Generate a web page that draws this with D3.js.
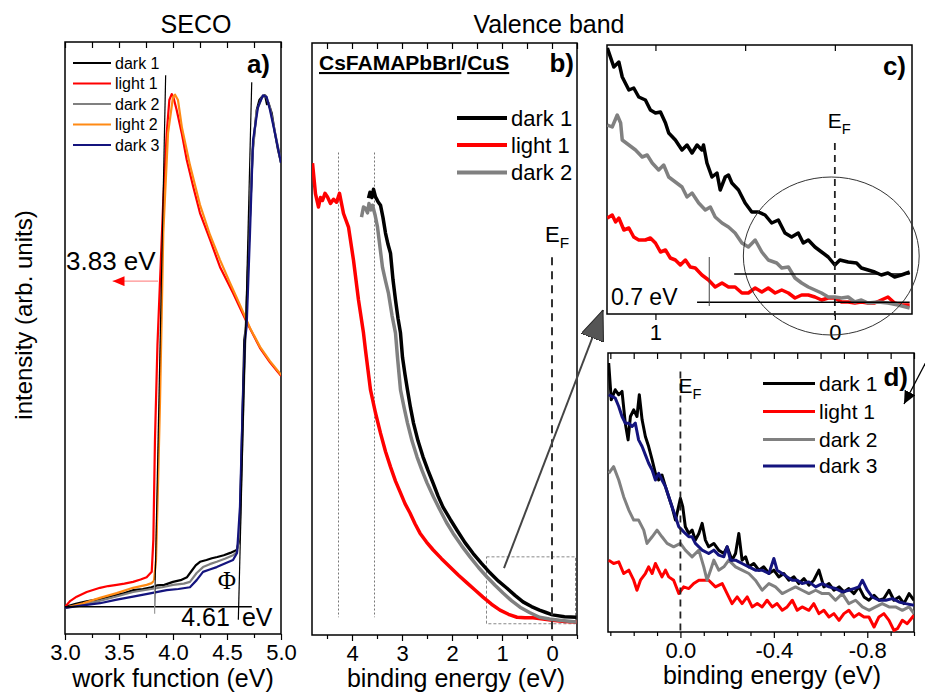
<!DOCTYPE html>
<html lang="en">
<head>
<meta charset="UTF-8">
<title>SECO and valence band</title>
<script src="https://d3js.org/d3.v7.min.js"></script>
<style>
    body { margin: 0; background: #fff; }
    svg { font-family: "Liberation Sans", Arial, sans-serif; }
    .tick text { font-size: 22px; fill: #000; font-family: "Liberation Sans", Arial, sans-serif; }
    .tick line { stroke: #000; stroke-width: 1.2; }
</style>
</head>
<body>
<svg id="chart" width="925" height="694"></svg>
<script>
// ---- panel a: SECO, work function (eV) vs intensity ----
const secoDark1 = [[3.00,4.6],[3.10,5.1],[3.20,5.5],[3.32,5.9],[3.45,6.5],[3.55,6.9],[3.63,7.4],[3.72,7.6],[3.80,7.9],[3.85,8.2],[3.92,8.3],[4.00,8.8],[4.07,9.1],[4.13,9.6],[4.17,10.6],[4.21,11.6],[4.25,12.2],[4.31,12.5],[4.36,12.8],[4.41,13.0],[4.47,13.3],[4.53,13.7],[4.59,14.2],[4.614,15.9],[4.627,24.3],[4.645,38.3],[4.66,49.7],[4.676,52.0],[4.706,67.7],[4.738,81.8],[4.775,88.5],[4.80,90.2],[4.821,90.7],[4.852,91.0],[4.87,89.5],[4.882,89.8],[4.914,88.0],[4.944,84.6],[4.97,82.0],[5.0,79.6]];
const secoLight1 = [[3.00,4.6],[3.05,5.6],[3.108,6.3],[3.201,7.1],[3.324,7.8],[3.40,8.1],[3.479,8.3],[3.55,8.5],[3.63,8.8],[3.70,9.2],[3.756,9.6],[3.803,10.5],[3.818,15.9],[3.833,32.8],[3.856,48.8],[3.91,73.3],[3.942,84.6],[3.966,90.2],[3.988,91.2],[4.003,90.7],[4.034,88.5],[4.081,84.6],[4.127,80.1],[4.188,75.5],[4.25,71.1],[4.343,66.6],[4.435,62.0],[4.556,57.6],[4.682,52.7],[4.806,48.3],[4.898,45.9],[5.0,43.6]];
const secoDark2 = [[3.00,4.4],[3.15,4.9],[3.30,5.5],[3.45,6.2],[3.63,7.1],[3.80,7.6],[3.90,7.9],[4.00,8.3],[4.10,8.5],[4.157,8.8],[4.219,10.3],[4.278,11.3],[4.34,11.8],[4.405,12.2],[4.48,12.7],[4.556,13.3],[4.593,13.9],[4.619,17.6],[4.634,27.7],[4.653,39.5],[4.671,50.8],[4.704,66.6],[4.736,80.9],[4.773,88.2],[4.824,90.7],[4.861,90.9],[4.898,88.9],[4.944,84.8],[5.0,79.7]];
const secoLight2 = [[3.00,4.4],[3.167,5.2],[3.324,6.1],[3.479,6.9],[3.63,7.8],[3.756,8.3],[3.803,8.6],[3.824,9.0],[3.843,12.5],[3.864,27.2],[3.88,39.5],[3.91,67.7],[3.954,84.6],[4.0,90.7],[4.019,91.1],[4.046,90.2],[4.083,85.5],[4.157,79.2],[4.25,72.5],[4.343,67.4],[4.435,63.2],[4.528,59.3],[4.62,55.6],[4.713,51.7],[4.806,48.5],[4.898,46.1],[5.0,43.8]];
const secoDark3 = [[3.00,4.4],[3.15,4.8],[3.324,5.2],[3.48,5.8],[3.63,6.3],[3.80,6.9],[3.942,7.4],[4.05,7.6],[4.157,7.9],[4.219,9.1],[4.278,10.5],[4.34,10.9],[4.405,11.3],[4.48,11.9],[4.556,12.5],[4.593,13.7],[4.62,21.5],[4.645,38.3],[4.667,49.7],[4.682,52.0],[4.713,67.7],[4.741,83.4],[4.787,89.0],[4.833,91.0],[4.867,90.7],[4.898,88.5],[4.944,84.6],[5.0,79.6]];
const secoNames = ["dark 1", "light 1", "dark 2", "light 2", "dark 3"];
const secoTicks = [3.0, 3.5, 4.0, 4.5, 5.0];
const wfLight = 3.83, wfDark = 4.61;

// ---- panel b: valence band, binding energy (eV) ----
const vbDark1 = [[3.67,73.8],[3.64,74.8],[3.60,73.9],[3.57,75.3],[3.53,74.0],[3.48,73.2],[3.43,72.6],[3.38,70.5],[3.33,67.9],[3.28,66.0],[3.23,64.5],[3.18,60.0],[3.13,56.6],[3.08,53.5],[3.03,51.0],[2.99,46.9],[2.94,44.0],[2.89,41.4],[2.83,38.4],[2.77,35.8],[2.68,32.8],[2.58,30.1],[2.48,27.8],[2.38,25.7],[2.28,23.5],[2.18,21.6],[2.04,19.6],[1.90,17.7],[1.74,15.6],[1.58,13.8],[1.41,12.1],[1.24,10.5],[1.07,9.1],[0.90,7.9],[0.74,6.7],[0.58,5.6],[0.41,4.8],[0.25,4.2],[0.12,3.8],[-0.01,3.4],[-0.25,3.1],[-0.49,3.0]];
const vbLight1 = [[4.79,79.7],[4.73,74.5],[4.67,72.3],[4.63,73.9],[4.59,73.4],[4.54,74.6],[4.49,74.0],[4.43,72.9],[4.37,73.6],[4.31,73.1],[4.25,74.6],[4.17,71.2],[4.07,68.9],[3.97,63.3],[3.87,56.6],[3.77,51.0],[3.73,48.1],[3.63,41.4],[3.53,37.5],[3.43,34.1],[3.33,31.0],[3.23,28.4],[3.13,26.0],[3.03,24.0],[2.94,22.2],[2.84,20.6],[2.74,18.8],[2.64,17.2],[2.51,15.7],[2.38,14.4],[2.21,12.9],[2.04,11.5],[1.87,10.1],[1.70,8.8],[1.54,7.6],[1.38,6.4],[1.21,5.2],[1.04,4.2],[0.87,3.5],[0.70,3.0],[0.54,2.9],[0.38,2.9],[0.18,2.7],[-0.01,2.5],[-0.25,2.3],[-0.49,2.2]];
const vbDark2 = [[3.81,70.6],[3.77,72.3],[3.73,72.1],[3.69,71.3],[3.66,72.9],[3.62,71.8],[3.59,72.6],[3.54,71.0],[3.49,68.9],[3.44,65.5],[3.39,62.1],[3.33,59.8],[3.27,57.7],[3.20,54.0],[3.13,51.0],[3.09,46.9],[3.03,41.4],[2.96,38.5],[2.89,35.8],[2.80,32.8],[2.70,30.1],[2.60,27.8],[2.50,25.7],[2.37,23.3],[2.24,21.1],[2.11,19.0],[1.98,17.2],[1.81,15.1],[1.64,13.2],[1.47,11.4],[1.30,9.8],[1.14,8.4],[0.98,7.1],[0.81,5.8],[0.64,4.7],[0.45,3.8],[0.25,3.0],[0.05,2.7],[-0.15,2.5],[-0.49,2.2]];
const vbNames = ["dark 1", "light 1", "dark 2"];
const vbTicks = [4, 3, 2, 1, 0];
const vbMarks = [4.27, 3.55];

// ---- panel c: zoom near the Fermi edge ----
const zoomDark1 = [[1.268,2.66],[1.232,2.47],[1.204,2.52],[1.185,2.37],[1.148,2.24],[1.121,2.26],[1.093,2.17],[1.056,2.14],[1.028,2.04],[1.0,2.01],[0.972,2.02],[0.944,1.91],[0.926,1.81],[0.889,1.74],[0.852,1.64],[0.824,1.69],[0.796,1.61],[0.768,1.69],[0.741,1.64],[0.732,1.69],[0.713,1.51],[0.685,1.37],[0.657,1.41],[0.639,1.24],[0.611,1.37],[0.593,1.39],[0.574,1.31],[0.537,1.24],[0.5,1.11],[0.463,1.02],[0.426,1.02],[0.389,0.99],[0.352,0.91],[0.315,0.94],[0.278,0.81],[0.241,0.77],[0.204,0.81],[0.176,0.71],[0.148,0.74],[0.111,0.67],[0.074,0.62],[0.037,0.57],[0.0,0.49],[-0.028,0.54],[-0.074,0.52],[-0.121,0.51],[-0.148,0.46],[-0.185,0.44],[-0.222,0.42],[-0.259,0.39],[-0.296,0.41],[-0.333,0.37],[-0.371,0.39],[-0.417,0.42]];
const zoomLight1 = [[1.268,0.96],[1.241,0.99],[1.222,0.92],[1.204,0.96],[1.176,0.84],[1.148,0.86],[1.121,0.77],[1.093,0.74],[1.056,0.74],[1.028,0.76],[1.0,0.71],[0.972,0.62],[0.944,0.64],[0.917,0.56],[0.889,0.54],[0.861,0.49],[0.833,0.54],[0.806,0.47],[0.778,0.46],[0.741,0.39],[0.704,0.34],[0.667,0.27],[0.629,0.31],[0.593,0.27],[0.556,0.27],[0.518,0.21],[0.482,0.21],[0.444,0.26],[0.407,0.22],[0.371,0.26],[0.333,0.21],[0.296,0.24],[0.259,0.21],[0.222,0.16],[0.185,0.19],[0.148,0.19],[0.111,0.17],[0.074,0.14],[0.037,0.16],[0.0,0.16],[-0.037,0.12],[-0.074,0.12],[-0.111,0.11],[-0.148,0.12],[-0.185,0.11],[-0.222,0.11],[-0.259,0.14],[-0.296,0.17],[-0.333,0.11],[-0.371,0.09],[-0.417,0.09]];
const zoomDark2 = [[1.268,1.89],[1.241,1.87],[1.213,1.99],[1.194,1.91],[1.185,1.74],[1.148,1.69],[1.111,1.64],[1.074,1.57],[1.046,1.59],[1.018,1.51],[0.982,1.44],[0.954,1.49],[0.926,1.37],[0.889,1.32],[0.852,1.27],[0.824,1.17],[0.796,1.21],[0.759,1.11],[0.722,1.04],[0.694,1.07],[0.667,0.97],[0.629,0.91],[0.593,0.87],[0.556,0.81],[0.518,0.71],[0.482,0.67],[0.444,0.74],[0.407,0.62],[0.371,0.54],[0.324,0.51],[0.296,0.46],[0.259,0.47],[0.222,0.36],[0.185,0.31],[0.148,0.27],[0.111,0.24],[0.074,0.21],[0.037,0.17],[0.0,0.17],[-0.037,0.16],[-0.074,0.17],[-0.111,0.12],[-0.148,0.14],[-0.185,0.11],[-0.241,0.12],[-0.296,0.11],[-0.352,0.09],[-0.417,0.06]];
const onsetDark = 0.40, onsetLight = 0.117, shiftStart = 0.70;

// ---- panel d: second zoom with dark 3 ----
const edgeDark1 = [[0.307,8.05],[0.296,6.95],[0.279,7.25],[0.264,7.10],[0.25,7.20],[0.236,6.25],[0.224,5.75],[0.214,6.45],[0.2,6.65],[0.186,6.45],[0.176,7.10],[0.164,6.35],[0.15,5.85],[0.136,5.55],[0.121,5.15],[0.107,4.75],[0.093,4.55],[0.079,4.70],[0.064,4.35],[0.05,4.05],[0.036,3.75],[0.021,3.35],[0.0,4.00],[-0.01,3.75],[-0.021,3.15],[-0.036,2.95],[-0.05,3.05],[-0.064,2.75],[-0.079,2.95],[-0.093,3.25],[-0.107,2.75],[-0.121,2.55],[-0.143,2.65],[-0.164,2.45],[-0.186,2.35],[-0.2,2.55],[-0.221,2.15],[-0.236,2.35],[-0.25,2.95],[-0.264,2.15],[-0.279,2.25],[-0.293,1.95],[-0.314,2.05],[-0.336,1.85],[-0.357,1.95],[-0.379,1.75],[-0.4,1.85],[-0.421,1.65],[-0.443,1.75],[-0.464,1.55],[-0.486,1.65],[-0.507,1.45],[-0.529,1.60],[-0.55,1.40],[-0.571,1.55],[-0.593,1.85],[-0.614,1.35],[-0.636,1.45],[-0.657,1.25],[-0.679,1.35],[-0.7,1.20],[-0.721,1.30],[-0.743,1.15],[-0.764,1.35],[-0.786,1.05],[-0.807,0.95],[-0.829,1.10],[-0.85,0.95],[-0.871,1.00],[-0.893,1.25],[-0.914,0.95],[-0.936,1.05],[-0.957,0.85],[-0.979,1.15],[-1.0,0.95]];
const edgeLight1 = [[0.307,2.15],[0.286,2.05],[0.264,2.10],[0.243,1.75],[0.221,1.85],[0.2,1.55],[0.186,1.25],[0.171,1.55],[0.15,1.75],[0.136,1.95],[0.121,1.75],[0.107,2.05],[0.093,1.85],[0.079,1.65],[0.064,1.85],[0.05,1.65],[0.029,1.55],[0.007,1.15],[-0.014,1.35],[-0.036,1.30],[-0.057,1.45],[-0.079,1.55],[-0.1,1.55],[-0.121,1.55],[-0.15,1.35],[-0.179,1.45],[-0.2,1.15],[-0.221,0.85],[-0.243,1.05],[-0.264,0.85],[-0.286,1.05],[-0.307,0.75],[-0.329,0.85],[-0.35,0.75],[-0.371,0.95],[-0.393,0.75],[-0.414,0.85],[-0.436,0.65],[-0.457,0.75],[-0.479,0.95],[-0.5,0.65],[-0.521,0.75],[-0.55,0.65],[-0.571,0.85],[-0.593,0.55],[-0.614,0.65],[-0.636,0.45],[-0.657,0.55],[-0.679,0.35],[-0.7,0.55],[-0.721,0.65],[-0.743,0.45],[-0.764,0.55],[-0.786,0.45],[-0.807,0.45],[-0.829,0.15],[-0.85,0.45],[-0.871,0.55],[-0.893,0.35],[-0.914,0.05],[-0.929,0.10],[-0.95,0.35],[-0.971,0.25],[-1.0,0.50]];
const edgeDark2 = [[0.307,4.75],[0.286,4.95],[0.264,4.55],[0.243,4.05],[0.221,3.65],[0.2,3.35],[0.179,3.35],[0.157,3.05],[0.143,2.65],[0.121,2.85],[0.1,3.05],[0.079,2.85],[0.057,2.65],[0.029,2.55],[0.0,2.65],[-0.021,2.45],[-0.05,2.25],[-0.079,2.45],[-0.1,1.95],[-0.114,1.55],[-0.129,1.85],[-0.143,2.15],[-0.164,1.85],[-0.186,1.95],[-0.207,2.15],[-0.236,1.95],[-0.264,1.85],[-0.293,1.75],[-0.321,1.55],[-0.35,1.25],[-0.379,1.45],[-0.407,1.35],[-0.436,1.15],[-0.464,1.25],[-0.493,1.35],[-0.521,1.25],[-0.55,1.15],[-0.579,1.25],[-0.607,1.15],[-0.636,1.15],[-0.664,0.95],[-0.693,1.15],[-0.721,0.85],[-0.75,0.95],[-0.779,0.75],[-0.807,0.65],[-0.836,0.75],[-0.864,0.85],[-0.893,0.75],[-0.921,0.75],[-0.95,0.65],[-0.979,0.75],[-1.0,0.55]];
const edgeDark3 = [[0.307,7.10],[0.293,7.05],[0.279,7.00],[0.264,6.75],[0.25,6.45],[0.236,6.25],[0.221,6.25],[0.207,6.15],[0.193,6.25],[0.179,5.75],[0.164,5.55],[0.15,5.30],[0.136,5.05],[0.121,4.85],[0.107,4.55],[0.093,4.75],[0.079,4.55],[0.064,4.35],[0.05,4.05],[0.036,3.75],[0.021,3.45],[0.007,3.15],[-0.007,3.05],[-0.021,2.95],[-0.036,2.85],[-0.05,2.85],[-0.064,2.65],[-0.079,2.55],[-0.093,2.45],[-0.121,2.35],[-0.143,2.45],[-0.164,2.30],[-0.186,2.25],[-0.2,2.55],[-0.214,2.15],[-0.236,2.15],[-0.264,2.05],[-0.293,1.95],[-0.321,1.85],[-0.35,1.85],[-0.379,1.75],[-0.4,2.20],[-0.414,1.85],[-0.436,1.75],[-0.457,1.65],[-0.479,1.55],[-0.5,1.55],[-0.521,1.45],[-0.55,1.50],[-0.579,1.35],[-0.607,1.45],[-0.636,1.35],[-0.664,1.30],[-0.693,1.20],[-0.721,1.25],[-0.743,1.30],[-0.764,1.35],[-0.779,1.55],[-0.8,1.25],[-0.821,1.05],[-0.85,0.95],[-0.879,0.95],[-0.907,1.00],[-0.936,0.90],[-0.964,0.85],[-1.0,0.80]];
const edgeNames = ["dark 1", "light 1", "dark 2", "dark 3"];
const edgeTicks = [0.0, -0.4, -0.8];

const BLACK = "#000", RED = "#ff0000", GREY = "#808080", ORANGE = "#ff8a14", NAVY = "#14147e";

const svg = d3.select("#chart");

// scales for the four panels
const xA = d3.scaleLinear().domain([3, 5]).range([65, 281]);
const yA = d3.scaleLinear().domain([0, 100]).range([634, 42]);
const xB = d3.scaleLinear().domain([4.8, -0.5]).range([312, 577]);
const yB = d3.scaleLinear().domain([0, 100]).range([635, 43]);
const xC = d3.scaleLinear().domain([1.27, -0.43]).range([607, 912]);
const yC = d3.scaleLinear().domain([0, 2.69]).range([314, 45]);
const xD = d3.scaleLinear().domain([0.31, -1.0]).range([608, 914]);
const yD = d3.scaleLinear().domain([0, 8.35]).range([632, 353]);

// markers
const defs = svg.append("defs");
function marker(id, len, half, fill, stroke) {
    defs.append("marker").attr("id", id)
        .attr("viewBox", `${-len} ${-half} ${len} ${2 * half}`)
        .attr("refX", 0).attr("refY", 0)
        .attr("markerUnits", "userSpaceOnUse")
        .attr("markerWidth", len).attr("markerHeight", 2 * half)
        .attr("orient", "auto")
        .append("path").attr("d", `M0,0L${-len},${-half}L${-len},${half}Z`)
        .attr("fill", fill).attr("stroke", stroke).attr("stroke-width", 1);
}
marker("bigArrow", 30, 12, "#555", "#222");
marker("redArrow", 12, 5, RED, "none");
marker("blkArrow", 13, 6, "#000", "none");

function clip(id, x, y) {
    defs.append("clipPath").attr("id", id).append("rect")
        .attr("x", x.range()[0]).attr("y", y.range()[1])
        .attr("width", x.range()[1] - x.range()[0]).attr("height", y.range()[0] - y.range()[1]);
}
clip("clipA", xA, yA); clip("clipB", xB, yB); clip("clipC", xC, yC); clip("clipD", xD, yD);

function frame(x, y) {
    svg.append("rect")
        .attr("x", x.range()[0]).attr("y", y.range()[1])
        .attr("width", x.range()[1] - x.range()[0]).attr("height", y.range()[0] - y.range()[1])
        .attr("fill", "none").attr("stroke", "#000").attr("stroke-width", 1.5);
}

function axes(x, y, majors, minors, fmt) {
    const bottom = y.range()[0], top = y.range()[1];
    const clean = g => g.select(".domain").remove();
    svg.append("g").attr("transform", `translate(0,${bottom})`)
        .call(d3.axisBottom(x).tickValues(majors).tickSize(6).tickPadding(4).tickFormat(fmt)).call(clean);
    svg.append("g").attr("transform", `translate(0,${bottom})`)
        .call(d3.axisBottom(x).tickValues(minors).tickSize(4).tickFormat("")).call(clean);
    svg.append("g").attr("transform", `translate(0,${top})`)
        .call(d3.axisTop(x).tickValues(majors.concat(minors)).tickSize(-6).tickFormat("")).call(clean);
}

function curve(data, x, y, color, width, clipId) {
    svg.append("path").datum(data)
        .attr("d", d3.line().x(d => x(d[0])).y(d => y(d[1])))
        .attr("fill", "none").attr("stroke", color).attr("stroke-width", width)
        .attr("stroke-linejoin", "round")
        .attr("clip-path", `url(#${clipId})`);
}

function seg(x1, y1, x2, y2, color, width, dash) {
    const l = svg.append("line").attr("x1", x1).attr("y1", y1).attr("x2", x2).attr("y2", y2)
        .attr("stroke", color).attr("stroke-width", width);
    if (dash) l.attr("stroke-dasharray", dash);
    return l;
}

function txt(x, y, s, size, anchor, weight) {
    return svg.append("text").attr("x", x).attr("y", y).attr("font-size", size)
        .attr("text-anchor", anchor || "start").attr("font-weight", weight || "normal").text(s);
}

function ef(x, y, size) {
    const t = svg.append("text").attr("x", x).attr("y", y).attr("font-size", size);
    t.append("tspan").text("E");
    t.append("tspan").attr("font-size", size * 0.7).attr("dy", size * 0.28).text("F");
}

function legend(names, colors, x0, x1, ys, size, width) {
    names.forEach((n, i) => {
        seg(x0, ys[i], x1, ys[i], colors[i], width);
        txt(x1 + 4, ys[i], n, size).attr("dy", "0.35em");
    });
}

// ================= panel a =================
frame(xA, yA);
axes(xA, yA, secoTicks, [3.25, 3.75, 4.25, 4.75], d3.format(".1f"));
[secoDark1, secoLight1, secoDark2, secoLight2, secoDark3].forEach((d, i) =>
    curve(d, xA, yA, [BLACK, RED, GREY, ORANGE, NAVY][i], 2.2, "clipA"));
const base = secoDark1[0][1];
seg(xA(3.0), yA(base), xA(4.73), yA(base), "#000", 1.3);
seg(xA(3.932), yA(94.4), xA(wfLight), yA(base), "#000", 1.2);
seg(xA(wfLight), yA(9.1), xA(wfLight), yA(3.4), "#999", 1.2);
seg(xA(4.729), yA(93.2), xA(4.605), yA(2.4), "#000", 1.2);
seg(xA(3.861), yA(59.6), xA(3.44), yA(59.6), "#ff8f8f", 1.2).attr("marker-end", "url(#redArrow)");
txt(66, 270, "3.83 eV", 26);
txt(xA(wfDark) - 9, 626, "4.61", 25, "end");
txt(xA(wfDark) + 3, 626, "eV", 25);
txt(227, 589, "Φ", 25, "middle").attr("font-family", "Liberation Serif, serif");
txt(270, 73, "a)", 26, "end", "bold");
legend(secoNames, [BLACK, RED, GREY, ORANGE, NAVY], 73, 111, [63, 83.5, 104, 124.5, 145], 16, 2);
txt(173, 687, "work function (eV)", 25, "middle");
txt(196, 33, "SECO", 25, "middle");

// ================= panel b =================
frame(xB, yB);
axes(xB, yB, vbTicks, [4.5, 3.5, 2.5, 1.5, 0.5, -0.5], d3.format("d"));
vbMarks.forEach(m => seg(xB(m), yB(81.5), xB(m), yB(3.0), "#777", 1, "2,2"));
svg.append("rect").attr("x", xB(1.31)).attr("y", yB(13.2))
    .attr("width", xB(-0.47) - xB(1.31)).attr("height", yB(1.9) - yB(13.2))
    .attr("fill", "none").attr("stroke", "#888").attr("stroke-width", 1).attr("stroke-dasharray", "3,2");
curve(vbLight1, xB, yB, RED, 3.5, "clipB");
curve(vbDark2, xB, yB, GREY, 3.5, "clipB");
curve(vbDark1, xB, yB, BLACK, 3.5, "clipB");
seg(xB(0), yB(63.8), xB(0), yB(-0.8), "#333", 2, "8,6");
ef(xB(0) - 7, 242, 22);
legend(vbNames, [BLACK, RED, GREY], 457, 507, [118, 145, 172.5], 22, 4);
const ttl = svg.append("text").attr("x", 319).attr("y", 70).attr("font-size", 21).attr("font-weight", "bold");
ttl.append("tspan").style("text-decoration", "underline").text("CsFAMAPbBrI");
ttl.append("tspan").text("/");
ttl.append("tspan").style("text-decoration", "underline").text("CuS");
txt(574, 72, "b)", 26, "end", "bold");
txt(456, 687, "binding energy (eV)", 25, "middle");
txt(549, 33, "Valence band", 25, "middle");
// arrow from the dashed box to panel c
seg(xB(0.96), yB(11.3), xC.range()[0] - 4, yC.range()[0] - 4, "#444", 2).attr("marker-end", "url(#bigArrow)");

// ================= panel c =================
frame(xC, yC);
axes(xC, yC, [1, 0], [0.5], d3.format("d"));
curve(zoomLight1, xC, yC, RED, 3.5, "clipC");
curve(zoomDark2, xC, yC, GREY, 3.5, "clipC");
curve(zoomDark1, xC, yC, BLACK, 3.5, "clipC");
seg(xC(0), yC(1.71), xC(0), yC(-0.02), "#222", 1.8, "7,5");
ef(xC(0) - 7, 128, 21);
svg.append("ellipse").attr("cx", xC(0.02)).attr("cy", yC(0.58))
    .attr("rx", xC(-0.47) - xC(0.02)).attr("ry", yC(0) - yC(0.79))
    .attr("fill", "none").attr("stroke", "#333").attr("stroke-width", 1);
seg(xC(0.561), yC(onsetDark), xC(-0.417), yC(onsetDark), "#000", 1.5);
seg(xC(0.768), yC(onsetLight), xC(-0.417), yC(onsetLight), "#000", 1.5);
seg(xC(shiftStart), yC(0.57), xC(shiftStart), yC(0.08), "#444", 1);
txt(611, 305, "0.7 eV", 23);
txt(906, 75, "c)", 26, "end", "bold");

// ================= panel d =================
frame(xD, yD);
axes(xD, yD, edgeTicks, [0.3, 0.2, 0.1, -0.1, -0.2, -0.3, -0.5, -0.6, -0.7, -0.9, -1.0], d => d.toFixed(1));
curve(edgeLight1, xD, yD, RED, 3, "clipD");
curve(edgeDark2, xD, yD, GREY, 3, "clipD");
curve(edgeDark1, xD, yD, BLACK, 3, "clipD");
curve(edgeDark3, xD, yD, NAVY, 3, "clipD");
seg(xD(0), yD(7.8), xD(0), yD(-0.05), "#222", 1.8, "7,5");
ef(xD(0) - 2, 393, 21);
legend(edgeNames, [BLACK, RED, GREY, NAVY], 763, 815, [383.5, 411.5, 439.5, 466], 21, 3);
txt(908, 386, "d)", 26, "end", "bold");
txt(772, 684, "binding energy (eV)", 25, "middle");
seg(926, 362, 904, 404, "#000", 1.3).attr("marker-end", "url(#blkArrow)");

// shared y label
svg.append("text").attr("transform", "translate(32,315) rotate(-90)")
    .attr("text-anchor", "middle").attr("font-size", 24).text("intensity (arb. units)");
</script>
</body>
</html>
